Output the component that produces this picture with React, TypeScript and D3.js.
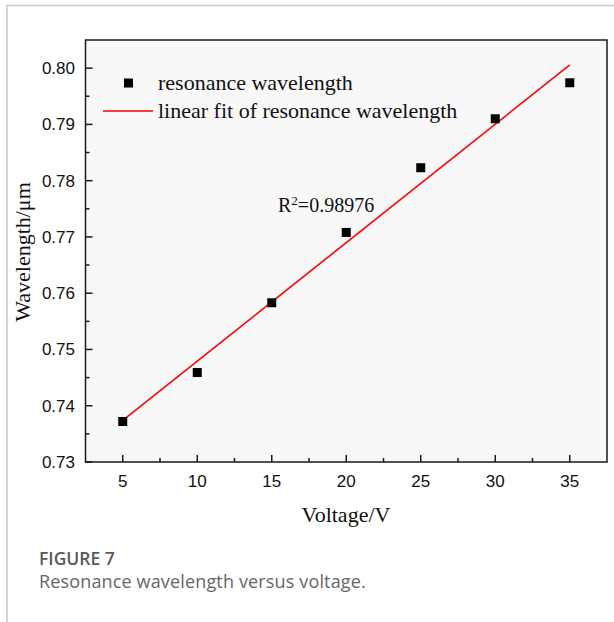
import React from "react";
import * as d3 from "d3";

// Measured resonance wavelength (µm) at each applied voltage (V)
const voltages = [5, 10, 15, 20, 25, 30, 35];
const wavelengths = [0.7372, 0.7459, 0.7583, 0.7708, 0.7823, 0.791, 0.7974];
const xTicks = [5, 10, 15, 20, 25, 30, 35];
const xMinorTicks = [7.5, 12.5, 17.5, 22.5, 27.5, 32.5];
const yTicks = [0.73, 0.74, 0.75, 0.76, 0.77, 0.78, 0.79, 0.8];
const yMinorTicks = [0.735, 0.745, 0.755, 0.765, 0.775, 0.785, 0.795];
const rSquaredLabel = "0.98976";
const legendLabels = ["resonance wavelength", "linear fit of resonance wavelength"];

const W = 614;
const H = 622;
const plot = { left: 85.5, right: 607, top: 40, bottom: 462 };

const serif = "'Liberation Serif', 'Times New Roman', serif";
const sans = "'Liberation Sans', Arial, sans-serif";

export default function App() {
  const x = d3.scaleLinear().domain([2.5, 37.5]).range([plot.left, plot.right]);
  const y = d3.scaleLinear().domain([0.73, 0.805]).range([plot.bottom, plot.top]);

  // least-squares fit
  const mx = d3.mean(voltages)!;
  const my = d3.mean(wavelengths)!;
  const sxy = d3.sum(voltages, (v, i) => (v - mx) * (wavelengths[i] - my));
  const sxx = d3.sum(voltages, (v) => (v - mx) ** 2);
  const slope = sxy / sxx;
  const intercept = my - slope * mx;
  const fitPts: [number, number][] = [5, 35].map((v) => [v, intercept + slope * v]);
  const fitLine = d3
    .line<[number, number]>()
    .x((d) => x(d[0]))
    .y((d) => y(d[1]))(fitPts)!;

  const axisColor = "#1a1a1a";
  const sq = 9;

  return (
    <svg
      width={W}
      height={H}
      style={{ position: "absolute", left: 0, top: 0, background: "#fff" }}
    >
      {/* page frame */}
      <line x1={6} x2={W} y1={5.5} y2={5.5} stroke="#c8c8c8" strokeWidth={1.5} />
      <line x1={7} x2={7} y1={5} y2={H} stroke="#c8c8c8" strokeWidth={1.5} />

      {/* plot area */}
      <rect
        x={plot.left}
        y={plot.top}
        width={plot.right - plot.left}
        height={plot.bottom - plot.top}
        fill="#f8f8f8"
      />

      {/* fit line */}
      <path d={fitLine} fill="none" stroke="#ff0000" strokeWidth={1.6} />

      {/* data markers */}
      {voltages.map((v, i) => (
        <rect
          key={v}
          x={x(v) - sq / 2}
          y={y(wavelengths[i]) - sq / 2}
          width={sq}
          height={sq}
          fill="#000"
        />
      ))}

      {/* frame */}
      <rect
        x={plot.left}
        y={plot.top}
        width={plot.right - plot.left}
        height={plot.bottom - plot.top}
        fill="none"
        stroke={axisColor}
        strokeWidth={1.5}
      />

      {/* x ticks */}
      {xTicks.map((t) => (
        <g key={"xt" + t}>
          <line x1={x(t)} x2={x(t)} y1={plot.bottom} y2={plot.bottom - 7} stroke={axisColor} strokeWidth={1.5} />
          <text x={x(t)} y={plot.bottom + 24.5} textAnchor="middle" fontFamily={sans} fontSize={17} fill="#111">
            {t}
          </text>
        </g>
      ))}
      {xMinorTicks.map((t) => (
        <line key={"xm" + t} x1={x(t)} x2={x(t)} y1={plot.bottom} y2={plot.bottom - 4} stroke={axisColor} strokeWidth={1.5} />
      ))}

      {/* y ticks */}
      {yTicks.map((t) => (
        <g key={"yt" + t}>
          <line x1={plot.left} x2={plot.left + 7} y1={y(t)} y2={y(t)} stroke={axisColor} strokeWidth={1.5} />
          <text x={75} y={y(t) + 6} textAnchor="end" fontFamily={sans} fontSize={17} fill="#111">
            {d3.format(".2f")(t)}
          </text>
        </g>
      ))}
      {yMinorTicks.map((t) => (
        <line key={"ym" + t} x1={plot.left} x2={plot.left + 4} y1={y(t)} y2={y(t)} stroke={axisColor} strokeWidth={1.5} />
      ))}

      {/* axis titles */}
      <text x={346} y={522} textAnchor="middle" fontFamily={serif} fontSize={22} fill="#111">
        Voltage/V
      </text>
      <text
        transform="translate(30,252) rotate(-90)"
        textAnchor="middle"
        fontFamily={serif}
        fontSize={22}
        fill="#111"
      >
        Wavelength/μm
      </text>

      {/* legend */}
      <rect x={128.5 - 4.5} y={83 - 4.5} width={9} height={9} fill="#000" />
      <text x={158} y={90} fontFamily={serif} fontSize={22} fill="#111">
        {legendLabels[0]}
      </text>
      <line x1={103} x2={153} y1={111} y2={111} stroke="#ff0000" strokeWidth={1.6} />
      <text x={158} y={118} fontFamily={serif} fontSize={22} fill="#111">
        {legendLabels[1]}
      </text>

      {/* goodness of fit */}
      <text x={278} y={212} fontFamily={serif} fontSize={20} fill="#111">
        R<tspan dy={-7} fontSize={13}>2</tspan>
        <tspan dy={7}>={rSquaredLabel}</tspan>
      </text>

      {/* caption */}
      <text x={39} y={565} fontFamily="'Open Sans', sans-serif" fontWeight={600} fontSize={17.5} fill="#595959">
        FIGURE 7
      </text>
      <text
        x={39}
        y={588}
        fontFamily="'Open Sans', sans-serif"
        fontSize={18}
        letterSpacing={0.15}
        fill="#666"
      >
        Resonance wavelength versus voltage.
      </text>
    </svg>
  );
}
